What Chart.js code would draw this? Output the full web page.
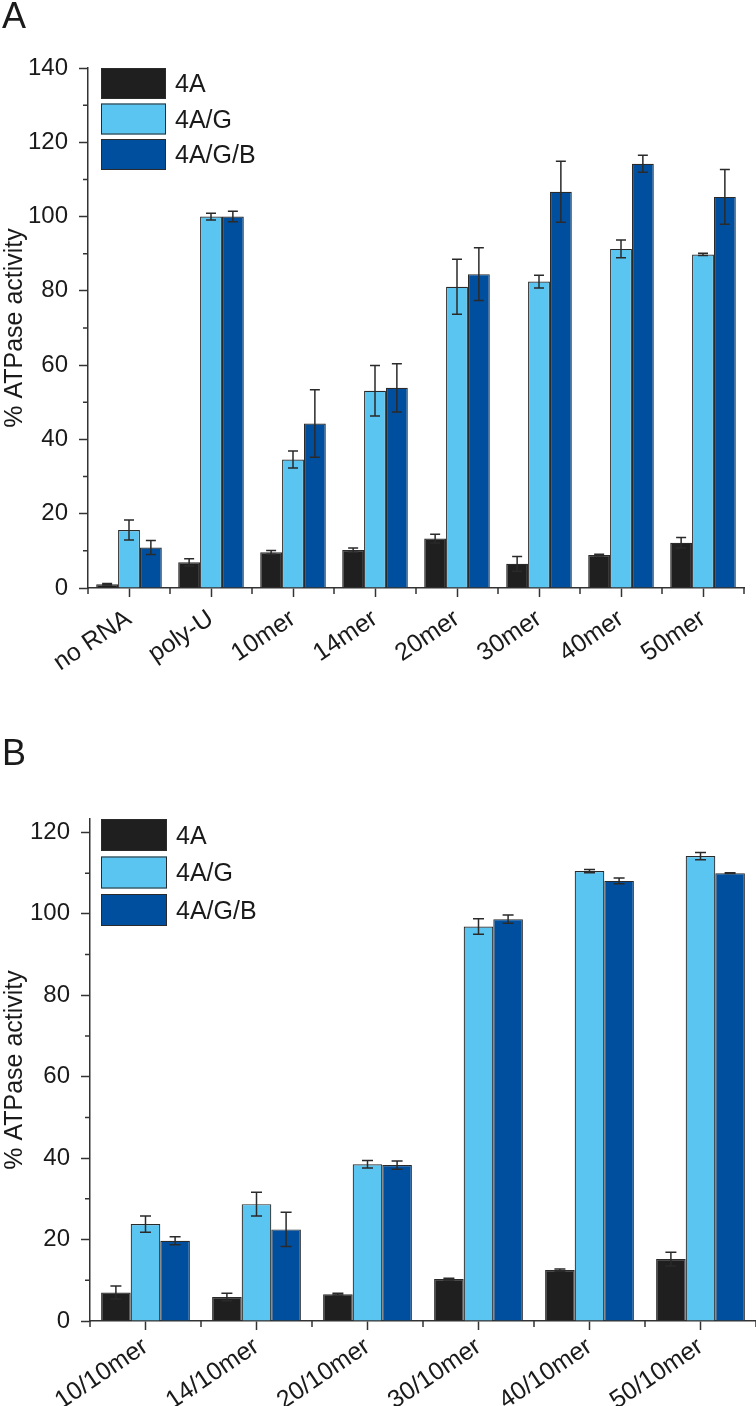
<!DOCTYPE html>
<html>
<head>
<meta charset="utf-8">
<script src="https://cdn.jsdelivr.net/npm/chart.js@4.4.1/dist/chart.umd.min.js"></script>
<style>
  body { margin: 0; background: #fff; width: 756px; height: 1406px; position: relative; overflow: hidden; }
  .panel { position: absolute; left: 0; width: 756px; }
  .tag { position: absolute; left: 2px; font: 36px 'Liberation Sans', Arial, sans-serif; color: #1a1a1a; line-height: 1; }
</style>
</head>
<body>
<div class="panel" style="top:0;height:700px"><canvas id="chartA" width="756" height="700"></canvas></div>
<div class="panel" style="top:700px;height:706px"><canvas id="chartB" width="756" height="706"></canvas></div>
<div class="tag" style="top:-2px">A</div>
<div class="tag" style="top:735px">B</div>
<script>
// Panel A data
const catsA = ['no RNA', 'poly-U', '10mer', '14mer', '20mer', '30mer', '40mer', '50mer'];
const a4A      = [1.0, 6.9, 9.6, 10.2, 13.3, 6.5, 8.9, 12.2];
const a4AErr   = [0.2, 1.0, 0.5, 0.6, 1.2, 2.0, 0.2, 1.4];
const a4AG     = [15.6, 100, 34.6, 53.1, 81.1, 82.5, 91.3, 89.8];
const a4AGErr  = [2.7, 0.9, 2.3, 6.8, 7.4, 1.7, 2.4, 0.3];
const a4AGB    = [10.9, 100, 44.3, 53.9, 84.5, 106.7, 114.2, 105.3];
const a4AGBErr = [1.9, 1.4, 9.1, 6.5, 7.1, 8.2, 2.3, 7.4];
const ticksA   = [0, 20, 40, 60, 80, 100, 120, 140];

// Panel B data
const catsB = ['10/10mer', '14/10mer', '20/10mer', '30/10mer', '40/10mer', '50/10mer'];
const b4A      = [7.0, 5.9, 6.6, 10.3, 12.5, 15.2];
const b4AErr   = [1.6, 0.9, 0.2, 0.2, 0.3, 1.7];
const b4AG     = [23.8, 28.7, 38.5, 96.9, 110.5, 114.2];
const b4AGErr  = [2.0, 2.9, 0.9, 1.9, 0.4, 0.9];
const b4AGB    = [19.7, 22.5, 38.3, 98.7, 108.1, 110.0];
const b4AGBErr = [1.0, 4.2, 1.0, 1.0, 0.7, 0.1];
const ticksB   = [0, 20, 40, 60, 80, 100, 120];

const seriesNames = ['4A', '4A/G', '4A/G/B'];
const seriesColors = ['#1f1f1f', '#5bc5f1', '#004f9e'];

const FONT = "'Liberation Sans', Arial, sans-serif";
const INK = '#1a1a1a';
const AXIS = '#333333';

// error bars on top of each bar
const errorBars = {
    id: 'errorBars',
    afterDatasetsDraw(chart) {
        const ctx = chart.ctx;
        const y = chart.scales.y;
        const cap = chart.options.plugins.errorBars.cap;
        ctx.save();
        ctx.strokeStyle = '#2a2a2a';
        ctx.lineWidth = 1.5;
        chart.data.datasets.forEach((ds, i) => {
            const meta = chart.getDatasetMeta(i);
            meta.data.forEach((bar, j) => {
                const v = ds.data[j], e = ds.errors[j];
                const top = y.getPixelForValue(v + e);
                const bot = y.getPixelForValue(v - e);
                ctx.beginPath();
                ctx.moveTo(bar.x, top); ctx.lineTo(bar.x, bot);
                ctx.moveTo(bar.x - cap, top); ctx.lineTo(bar.x + cap, top);
                ctx.moveTo(bar.x - cap, bot); ctx.lineTo(bar.x + cap, bot);
                ctx.stroke();
            });
        });
        ctx.restore();
    }
};

// short ticks: y between majors, x at category edges
const minorTicks = {
    id: 'minorTicks',
    afterDraw(chart) {
        const ctx = chart.ctx, x = chart.scales.x, y = chart.scales.y;
        ctx.save();
        ctx.strokeStyle = AXIS;
        ctx.lineWidth = 1.5;
        ctx.beginPath();
        for (let v = 10; v < y.max; v += 20) {
            const py = y.getPixelForValue(v);
            ctx.moveTo(y.right - 5, py); ctx.lineTo(y.right, py);
        }
        for (let i = 0; i <= chart.data.labels.length; i++) {
            const px = x.getPixelForValue(i - 0.5);
            ctx.moveTo(px, x.top); ctx.lineTo(px, x.top + 6);
        }
        ctx.stroke();
        ctx.restore();
    }
};

// legend boxes inside the plot, top-left
const boxLegend = {
    id: 'boxLegend',
    afterDraw(chart) {
        const ctx = chart.ctx, area = chart.chartArea;
        const o = chart.options.plugins.boxLegend;
        ctx.save();
        ctx.font = '25px ' + FONT;
        ctx.textBaseline = 'middle';
        chart.data.datasets.forEach((ds, i) => {
            const bx = area.left + o.dx, by = area.top + o.dy + i * o.step;
            ctx.fillStyle = ds.backgroundColor;
            ctx.fillRect(bx, by, o.w, o.h);
            ctx.strokeStyle = '#2a2a2a';
            ctx.lineWidth = 1;
            ctx.strokeRect(bx + 0.5, by + 0.5, o.w - 1, o.h - 1);
            ctx.fillStyle = INK;
            ctx.fillText(ds.label, bx + o.w + 9, by + o.h / 2 + 2);
        });
        ctx.restore();
    }
};

function makeDatasets(vals, errs) {
    return vals.map((v, i) => ({
        label: seriesNames[i],
        data: v,
        errors: errs[i],
        backgroundColor: seriesColors[i],
        borderColor: '#2a2a2a',
        borderWidth: 1.2,
        categoryPercentage: 0.8,
        barPercentage: 1.0
    }));
}

function makeChart(id, cats, vals, errs, yMax, tickVals, geo) {
    return new Chart(document.getElementById(id), {
        type: 'bar',
        data: { labels: cats, datasets: makeDatasets(vals, errs) },
        options: {
            responsive: false,
            animation: false,
            events: [],
            layout: { padding: { left: 0, right: geo.right, top: geo.top, bottom: 0 } },
            plugins: {
                legend: { display: false },
                tooltip: { enabled: false },
                errorBars: { cap: geo.cap },
                boxLegend: geo.legend
            },
            scales: {
                x: {
                    afterFit: s => { s.height = geo.xh; },
                    grid: { display: true, drawOnChartArea: false, offset: false, tickLength: 9, tickColor: AXIS, tickWidth: 1.5 },
                    border: { display: true, color: AXIS, width: 1.5 },
                    ticks: { color: INK, font: { family: FONT, size: 25 }, minRotation: 34, maxRotation: 34, autoSkip: false, padding: geo.xpad }
                },
                y: {
                    min: 0,
                    max: yMax,
                    afterFit: s => { s.width = geo.yw; },
                    afterBuildTicks: s => { s.ticks = tickVals.map(v => ({ value: v })); },
                    grid: { display: true, drawOnChartArea: false, tickLength: 9, tickColor: AXIS, tickWidth: 1.5 },
                    border: { display: true, color: AXIS, width: 1.5 },
                    ticks: { color: INK, font: { family: FONT, size: 24 }, padding: 11 },
                    title: { display: true, text: '% ATPase activity', color: INK, font: { family: FONT, size: 25 }, padding: 0 }
                }
            }
        },
        plugins: [errorBars, minorTicks, boxLegend]
    });
}

makeChart('chartA', catsA, [a4A, a4AG, a4AGB], [a4AErr, a4AGErr, a4AGBErr], 140, ticksA,
    { right: 12, top: 68, xh: 112, yw: 88, cap: 5, xpad: 7,
      legend: { dx: 13, dy: 0, step: 35.5, w: 65, h: 31 } });

makeChart('chartB', catsB, [b4A, b4AG, b4AGB], [b4AErr, b4AGErr, b4AGBErr], 123.3, ticksB,
    { right: 0, top: 119, xh: 85, yw: 90, cap: 5.5, xpad: 2,
      legend: { dx: 11, dy: 0, step: 37.5, w: 66, h: 32 } });
</script>
</body>
</html>
